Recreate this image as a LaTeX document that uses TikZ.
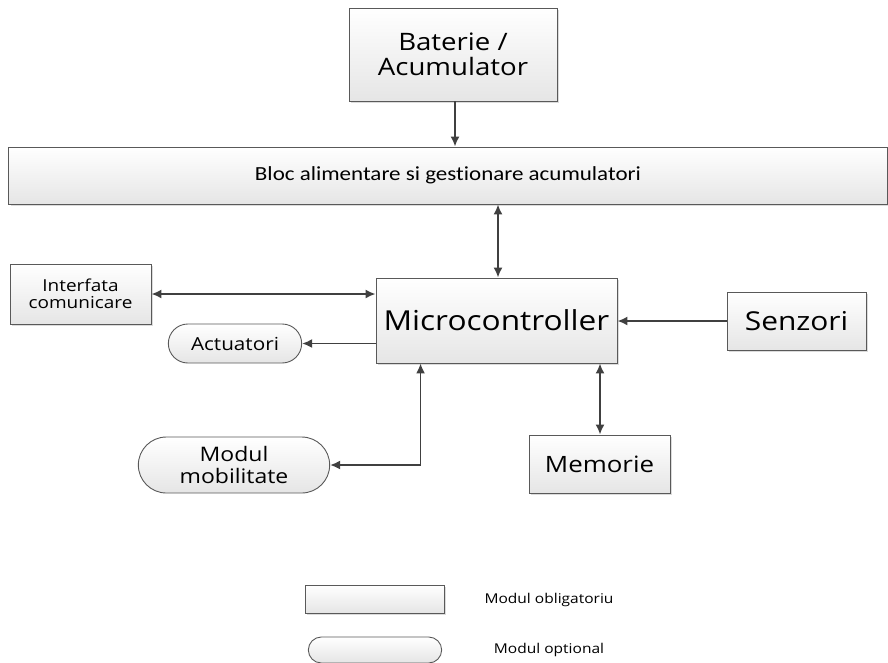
\documentclass[tikz,border=0pt]{standalone}
\usepackage{fontspec}
\setmainfont{Open Sans}[FakeStretch=1.15]
\newfontfamily\narrowfont{Carlito}[FakeStretch=1.15, Ligatures=NoCommon]
\usetikzlibrary{arrows.meta,shadows,shapes.misc}

\begin{document}
\begin{tikzpicture}[
    x=1pt, y=-1pt,
    mandatory/.style={rectangle, draw=black!65, line width=0.9pt,
        top color=white, bottom color=black!10, align=center,
        drop shadow={shadow xshift=2pt, shadow yshift=-2pt, opacity=0.35, fill=black!40}},
    optional/.style={rounded rectangle, draw=black!65, line width=0.9pt,
        top color=white, bottom color=black!10, align=center},
    arrow/.style={->, line width=1.7pt, draw=black!75},
    dblarrow/.style={<->, line width=1.7pt, draw=black!75},
    >={Latex[length=10pt,width=9pt]}
]
\useasboundingbox (0,0) rectangle (888,662);

% Power supply
\node[mandatory, minimum width=208, minimum height=93,
      font=\fontsize{24}{25}\selectfont] (bat) at (453,54.5) {Baterie /\\ Acumulator};
\node[mandatory, minimum width=879, minimum height=57,
      font=\narrowfont\fontsize{20}{22}\selectfont] (bloc) at (448,175.5)
    {Bloc alimentare si gestionare acumulatori};

% Central unit
\node[mandatory, minimum width=241, minimum height=85,
      font=\fontsize{27.5}{30}\selectfont] (mcu) at (496.5,320.5) {Microcontroller};

% Peripherals
\node[mandatory, minimum width=141, minimum height=60,
      font=\fontsize{16.5}{17}\selectfont] (intf) at (80.5,294) {Interfata\\ comunicare};
\node[optional, minimum width=140, minimum height=39,
      font=\fontsize{18}{20}\selectfont] (act) at (235,343.5) {Actuatori};
\node[mandatory, minimum width=139, minimum height=58,
      font=\fontsize{26}{28}\selectfont] (senz) at (796.5,321) {Senzori};
\node[mandatory, minimum width=141, minimum height=58,
      font=\fontsize{22.5}{24}\selectfont] (mem) at (599.5,464) {Memorie};
\node[optional, minimum width=198, minimum height=56,
      font=\fontsize{20}{22}\selectfont] (mob) at (234,465) {Modul\\ mobilitate};

% Connections
\draw[arrow] (bat.south -| 455,0) -- (bloc.north -| 455,0);
\draw[dblarrow] (mcu.north -| 498,0) -- (bloc.south -| 498,0);
\draw[dblarrow] (intf.east) -- (intf.east -| mcu.west);
\draw[arrow] (act.east -| mcu.west) -- (act.east);
\draw[arrow] (senz.west) -- (senz.west -| mcu.east);
\draw[dblarrow] (mem.north -| 600,0) -- (mcu.south -| 600,0);
\draw[dblarrow] (mob.east) -| ([xshift=45pt]mcu.south west);

% Legend
\node[mandatory, minimum width=139, minimum height=28] (legm) at (374.5,599) {};
\node[optional, minimum width=140, minimum height=26] (lego) at (375,650) {};
\node[font=\fontsize{13.5}{16}\selectfont] (legmtxt) at (549,600) {Modul obligatoriu};
\node[font=\fontsize{13.5}{16}\selectfont] (legotxt) at (549,650) {Modul optional};

\end{tikzpicture}
\end{document}
